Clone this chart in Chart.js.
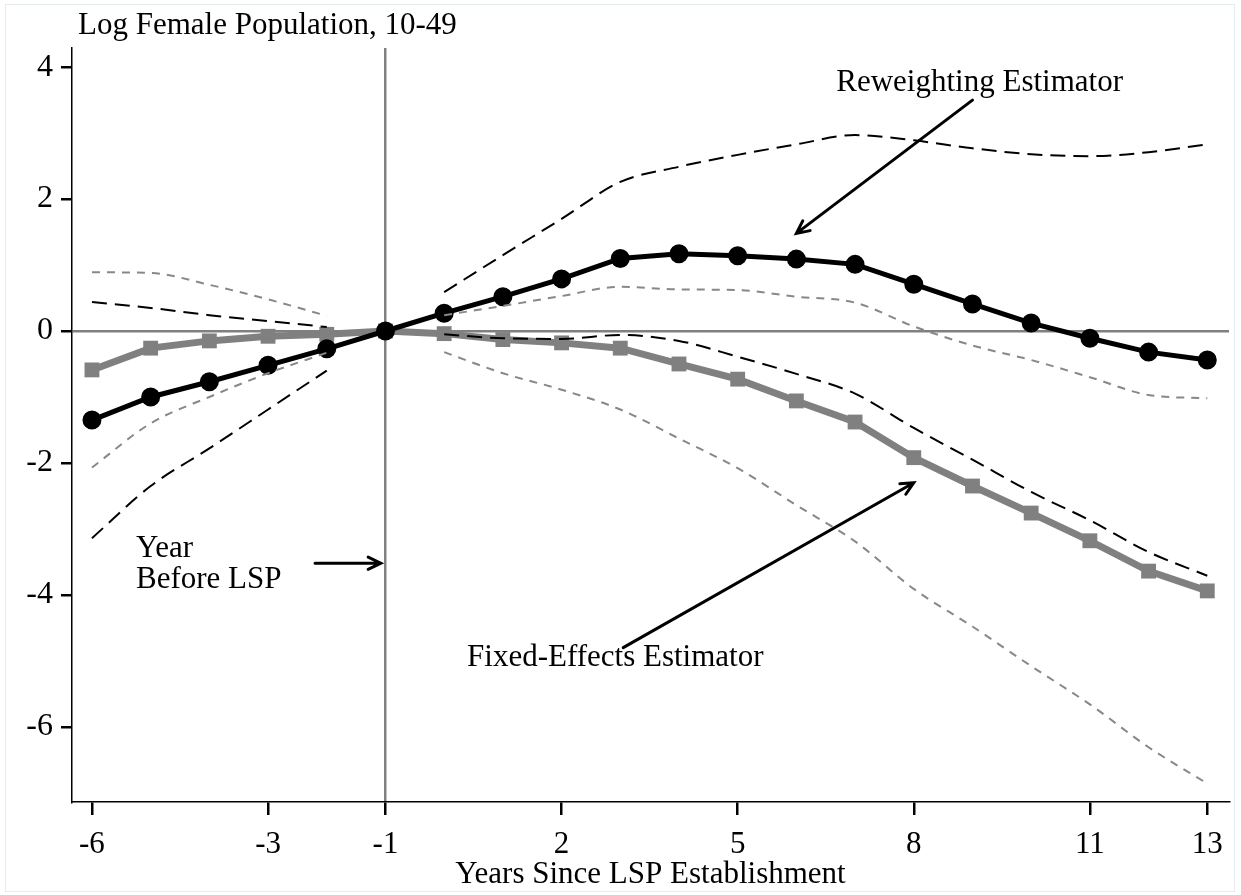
<!DOCTYPE html>
<html>
<head>
<meta charset="utf-8">
<script src="https://cdn.jsdelivr.net/npm/chart.js@4.4.1/dist/chart.umd.min.js"></script>
<style>
  html, body { margin: 0; padding: 0; background: #fff; }
  #wrap { position: relative; width: 1241px; height: 895px; }
  #frame { position: absolute; left: 5px; top: 4px; width: 1228px; height: 886px; border: 1px solid #e4ebef; pointer-events: none; }
</style>
</head>
<body>
<div id="wrap">
  <canvas id="chart" width="1241" height="895"></canvas>
  <div id="frame"></div>
</div>
<script>
// years relative to LSP establishment
const years = [-6, -5, -4, -3, -2, -1, 0, 1, 2, 3, 4, 5, 6, 7, 8, 9, 10, 11, 12, 13];
const xTicks = [-6, -3, -1, 2, 5, 8, 11, 13];
const yTicks = [4, 2, 0, -2, -4, -6];

// point estimates
const reweighting = [-1.35, -1.00, -0.77, -0.52, -0.27, 0, 0.27, 0.52, 0.79, 1.10, 1.17, 1.14, 1.09, 1.01, 0.71, 0.41, 0.12, -0.11, -0.32, -0.44];
const fixedEffects = [-0.59, -0.26, -0.15, -0.08, -0.05, 0, -0.04, -0.13, -0.18, -0.26, -0.50, -0.73, -1.06, -1.38, -1.92, -2.35, -2.76, -3.18, -3.64, -3.94];

// confidence bands (no band at the omitted year -1)
const rwUpper = [0.44, 0.35, 0.24, 0.15, 0.06, null, 0.59, 1.15, 1.70, 2.26, 2.49, 2.67, 2.83, 2.97, 2.89, 2.77, 2.68, 2.65, 2.71, 2.83];
const rwLower = [-3.14, -2.35, -1.78, -1.19, -0.60, null, -0.05, -0.11, -0.12, -0.06, -0.15, -0.39, -0.65, -0.95, -1.47, -1.95, -2.44, -2.87, -3.35, -3.71];
const feUpper = [0.89, 0.88, 0.70, 0.48, 0.23, null, 0.24, 0.38, 0.53, 0.67, 0.63, 0.62, 0.52, 0.43, 0.07, -0.22, -0.44, -0.70, -0.97, -1.02];
const feLower = [-2.07, -1.40, -1.00, -0.64, -0.33, null, -0.32, -0.64, -0.89, -1.19, -1.63, -2.08, -2.64, -3.19, -3.91, -4.48, -5.08, -5.66, -6.31, -6.86];

const FONT = "'Liberation Serif', 'Times New Roman', serif";

const toPoints = arr => years.map((x, i) => ({ x: x, y: arr[i] }));

const bandStyle = (color, dash) => ({
    borderColor: color,
    borderWidth: 2,
    borderDash: dash,
    pointRadius: 0,
    fill: false,
    spanGaps: false,
    cubicInterpolationMode: 'monotone',
});

// text and arrows placed in data coordinates
const annotations = {
    id: 'annotations',
    afterDatasetsDraw(chart) {
        const { ctx, scales: { x, y } } = chart;
        const px = v => x.getPixelForValue(v);
        const py = v => y.getPixelForValue(v);

        const arrow = (x1, y1, x2, y2) => {
            const ax = px(x1), ay = py(y1), bx = px(x2), by = py(y2);
            const ang = Math.atan2(by - ay, bx - ax);
            const head = 14;
            ctx.beginPath();
            ctx.moveTo(ax, ay);
            ctx.lineTo(bx, by);
            ctx.moveTo(bx - head * Math.cos(ang - 0.45), by - head * Math.sin(ang - 0.45));
            ctx.lineTo(bx, by);
            ctx.lineTo(bx - head * Math.cos(ang + 0.45), by - head * Math.sin(ang + 0.45));
            ctx.stroke();
        };

        ctx.save();
        ctx.strokeStyle = '#000';
        ctx.lineWidth = 3;
        ctx.lineCap = 'round';
        arrow(9.0, 3.5, 6.0, 1.48);
        arrow(3.05, -4.8, 8.0, -2.3);
        arrow(-2.2, -3.52, -1.08, -3.52);

        ctx.fillStyle = '#000';
        ctx.font = '31px ' + FONT;
        ctx.textBaseline = 'middle';
        ctx.textAlign = 'left';
        ctx.fillText('Reweighting Estimator', px(6.68), py(3.76));
        ctx.fillText('Fixed-Effects Estimator', px(0.39), py(-4.95));
        ctx.fillText('Year', px(-5.25), py(-3.30));
        ctx.fillText('Before LSP', px(-5.25), py(-3.78));
        ctx.restore();
    },
    afterDraw(chart) {
        const { ctx } = chart;
        ctx.save();
        ctx.fillStyle = '#000';
        ctx.font = '31px ' + FONT;
        ctx.textBaseline = 'middle';
        ctx.textAlign = 'left';
        ctx.fillText('Log Female Population, 10-49', chart.chartArea.left + 6, chart.chartArea.top - 22);
        ctx.restore();
    }
};

new Chart(document.getElementById('chart').getContext('2d'), {
    type: 'line',
    data: {
        datasets: [
            Object.assign({ label: 'RW upper', data: toPoints(rwUpper) }, bandStyle('#000', [15, 8])),
            Object.assign({ label: 'RW lower', data: toPoints(rwLower) }, bandStyle('#000', [15, 8])),
            Object.assign({ label: 'FE upper', data: toPoints(feUpper) }, bandStyle('#888', [8, 7])),
            Object.assign({ label: 'FE lower', data: toPoints(feLower) }, bandStyle('#888', [8, 7])),
            {
                label: 'Reweighting Estimator',
                data: toPoints(reweighting),
                borderColor: '#000',
                backgroundColor: '#000',
                borderWidth: 5,
                pointRadius: 7,
                pointStyle: 'circle',
                tension: 0,
            },
            {
                label: 'Fixed-Effects Estimator',
                data: toPoints(fixedEffects),
                borderColor: '#808080',
                backgroundColor: '#808080',
                borderWidth: 7,
                pointRadius: 10.5,
                pointBorderWidth: 0,
                pointStyle: 'rect',
                tension: 0,
            },
        ]
    },
    options: {
        responsive: false,
        animation: false,
        layout: { padding: { top: 48, right: 5, left: 0, bottom: 0 } },
        plugins: {
            legend: { display: false },
            tooltip: { enabled: false },
        },
        scales: {
            x: {
                type: 'linear',
                min: -6.34,
                max: 13.37,
                afterBuildTicks: scale => { scale.ticks = xTicks.map(v => ({ value: v })); },
                afterFit: scale => { scale.height = 93; },
                grid: {
                    color: ctx => (ctx.tick && ctx.tick.value === -1 ? '#808080' : 'rgba(0,0,0,0)'),
                    tickColor: '#000',
                    lineWidth: 2.5,
                    tickLength: 13,
                },
                border: { display: true, color: '#000', width: 1.5 },
                ticks: {
                    color: '#000',
                    font: { family: FONT, size: 31 },
                    padding: 11,
                    maxRotation: 0,
                },
                title: {
                    display: true,
                    text: 'Years Since LSP Establishment',
                    color: '#000',
                    font: { family: FONT, size: 31 },
                    padding: { top: 0, bottom: 2 },
                },
            },
            y: {
                min: -7.14,
                max: 4.29,
                afterBuildTicks: scale => { scale.ticks = yTicks.map(v => ({ value: v })); },
                afterFit: scale => { scale.width = 72; },
                grid: {
                    color: ctx => (ctx.tick && ctx.tick.value === 0 ? '#808080' : 'rgba(0,0,0,0)'),
                    tickColor: '#000',
                    lineWidth: 2.5,
                    tickLength: 11,
                },
                border: { display: true, color: '#000', width: 1.5 },
                ticks: {
                    color: '#000',
                    font: { family: FONT, size: 32 },
                    padding: 8,
                },
            },
        },
    },
    plugins: [annotations],
});
</script>
</body>
</html>
